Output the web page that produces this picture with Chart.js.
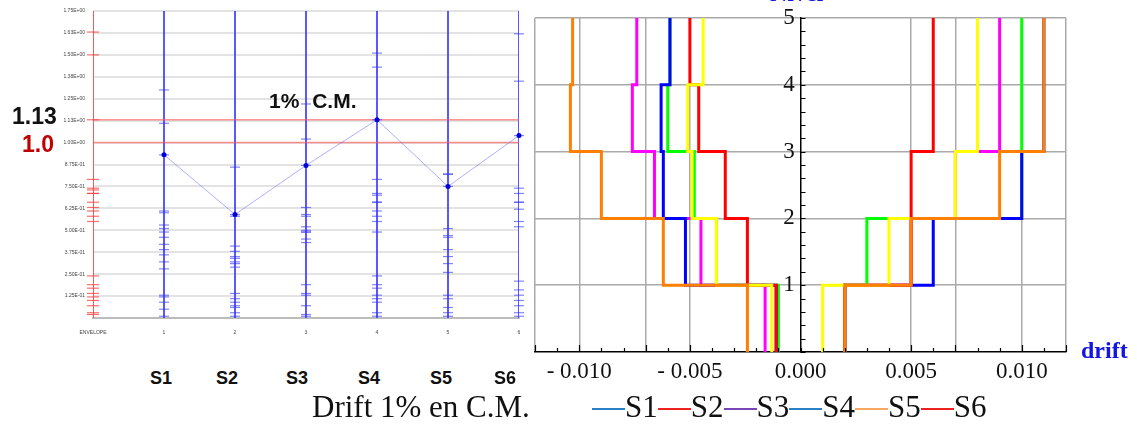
<!DOCTYPE html>
<html lang="es">
<head>
<meta charset="UTF-8">
<title>Drift 1% en C.M.</title>
<script src="https://cdn.jsdelivr.net/npm/chart.js"></script>
<style>
  body { margin: 0; width: 1137px; height: 427px; background: #fff; position: relative; overflow: hidden; }
  canvas { position: absolute; }
  .lbl { position: absolute; white-space: nowrap; }
  .legend { position: absolute; display: flex; align-items: center; white-space: nowrap; }
  .legend i { display: inline-block; width: 33px; height: 2px; margin-top: 5px; }
</style>
</head>
<body>
<canvas id="ratioChart" width="545" height="340" style="left:0;top:0"></canvas>
<canvas id="driftChart" width="617" height="400" style="left:520px;top:0"></canvas>
<script>
// ---- ratio chart (left) ----
const stationLabels = ['ENVELOPE', '1', '2', '3', '4', '5', '6'];
const stationNames = ['S1', 'S2', 'S3', 'S4', 'S5', 'S6'];
const meanRatio = [0.93, 0.59, 0.87, 1.13, 0.75, 1.04];
const limitTarget = 1.13;
const limitBase = 1.0;
const envelopeRecords = [1.63, 1.50, 1.13, 0.79, 0.74, 0.73, 0.71, 0.71, 0.66, 0.63, 0.61, 0.58, 0.55,
  0.24, 0.19, 0.17, 0.14, 0.12, 0.10, 0.07, 0.03, 0.02];
const s1Records = [1.30, 1.11, 0.93, 0.61, 0.60, 0.53, 0.51, 0.49, 0.46, 0.42, 0.39, 0.36, 0.32, 0.28, 0.13, 0.12, 0.09, 0.05, 0.01];
const s2Records = [0.86, 0.59, 0.58, 0.41, 0.38, 0.35, 0.34, 0.32, 0.31, 0.29, 0.14, 0.11, 0.09, 0.07, 0.06, 0.03, 0.01];
const s3Records = [1.22, 1.02, 0.87, 0.63, 0.59, 0.58, 0.52, 0.50, 0.49, 0.49, 0.45, 0.43, 0.19, 0.14, 0.13, 0.07, 0.02, 0.01];
const s4Records = [1.51, 1.43, 1.13, 0.79, 0.71, 0.70, 0.66, 0.66, 0.61, 0.58, 0.55, 0.49, 0.24, 0.19, 0.17, 0.13, 0.11, 0.09, 0.03, 0.01];
const s5Records = [0.82, 0.82, 0.75, 0.51, 0.47, 0.46, 0.39, 0.35, 0.31, 0.26, 0.13, 0.11, 0.06, 0.03, 0.01];
const s6Records = [1.62, 1.35, 1.04, 0.74, 0.71, 0.66, 0.66, 0.62, 0.55, 0.52, 0.21, 0.16, 0.13, 0.10, 0.07, 0.03, 0.01];
const ratioMax = 1.75;

// ---- drift profiles (right), one value per story, stories 1..5 ----
const levels = [0, 1, 2, 3, 4, 5];
const driftNeg = {
  S3: [-0.0016, -0.0045, -0.0066, -0.0076, -0.0074],
  S4: [-0.0010, -0.0038, -0.0048, -0.0060, -0.0059],
  S1: [-0.0011, -0.0052, -0.0062, -0.0063, -0.0059],
  S2: [-0.0011, -0.0024, -0.0034, -0.0046, -0.0050],
  S5: [-0.0013, -0.0038, -0.0049, -0.0051, -0.0044],
  S6: [-0.0024, -0.0062, -0.0090, -0.0104, -0.0103]
};
const driftPos = {
  S3: [0.002, 0.005, 0.007, 0.009, 0.009],
  S4: [0.002, 0.003, 0.010, 0.010, 0.010],
  S1: [0.002, 0.006, 0.010, 0.011, 0.011],
  S2: [0.002, 0.005, 0.005, 0.006, 0.006],
  S5: [0.001, 0.004, 0.007, 0.008, 0.008],
  S6: [0.002, 0.005, 0.009, 0.011, 0.011]
};
const driftColors = { S1: '#0000ff', S2: '#ff0000', S3: '#ff00ff', S4: '#00ff00', S5: '#ffff00', S6: '#ff8000' };
const driftTicks = [];
for (let i = -12; i <= 12; i++) driftTicks.push(i / 1000);
const driftGrid = [-12, -10, -7, -5, 5, 7, 10, 12];      // in thousandths
const driftLabelled = [-10, -5, 0, 5, 10];

// legend under the drift chart
const legendItems = ['S1', 'S2', 'S3', 'S4', 'S5', 'S6'];
const legendColors = ['#2a7fc9', '#ee2222', '#7b45b8', '#2a7fc9', '#f6a865', '#ee2222'];

// 1.125 -> "1.13E+00"
function sci(v) {
  const [m, e] = v.toExponential(2).split('e');
  const n = parseInt(e, 10);
  return m + 'E' + (n < 0 ? '-' : '+') + String(Math.abs(n)).padStart(2, '0');
}

// chart.js paints lower `order` on top, so later pushes get lower order
function stackUp(sets) {
  sets.forEach((ds, i) => { ds.order = sets.length - i; });
  return sets;
}

const ratioSets = [];
ratioSets.push({ data: [{ x: 0, y: 0 }, { x: 0, y: ratioMax }], showLine: true, borderColor: 'rgba(255,70,70,0.9)', borderWidth: 2, pointRadius: 0 });
stationNames.forEach((_, i) => {
  ratioSets.push({ data: [{ x: i + 1, y: 0 }, { x: i + 1, y: ratioMax }], showLine: true, borderColor: 'rgba(60,60,255,0.85)', borderWidth: 2, pointRadius: 0 });
});
[limitTarget, limitBase].forEach(v => {
  ratioSets.push({ data: [{ x: 0, y: v }, { x: 6, y: v }], showLine: true, borderColor: 'rgba(255,90,90,0.65)', borderWidth: 1.5, pointRadius: 0 });
});
ratioSets.push({
  data: envelopeRecords.map(v => ({ x: 0, y: v })), pointStyle: 'line', pointRadius: 6,
  pointBorderColor: 'rgba(255,60,60,0.75)', pointBorderWidth: 1.2, clip: false
});
[s1Records, s2Records, s3Records, s4Records, s5Records, s6Records].forEach((rec, i) => {
  ratioSets.push({
    data: rec.map(v => ({ x: i + 1, y: v })), pointStyle: 'line', pointRadius: 5,
    pointBorderColor: 'rgba(50,50,255,0.6)', pointBorderWidth: 1.2, clip: false
  });
});
ratioSets.push({
  data: meanRatio.map((v, i) => ({ x: i + 1, y: v })), showLine: true,
  borderColor: 'rgba(110,110,255,0.55)', borderWidth: 1,
  pointRadius: 2.5, pointBackgroundColor: '#0000dd', pointBorderWidth: 0, clip: false
});

new Chart(document.getElementById('ratioChart'), {
  type: 'scatter',
  data: { datasets: stackUp(ratioSets) },
  options: {
    responsive: false, animation: false, devicePixelRatio: 1,
    layout: { padding: { top: 11, right: 26, left: 0, bottom: 0 } },
    plugins: { legend: { display: false }, tooltip: { enabled: false } },
    scales: {
      x: {
        type: 'linear', min: 0, max: 6,
        afterBuildTicks: s => { s.ticks = stationLabels.map((_, i) => ({ value: i })); },
        afterFit: s => { s.height = 22; },
        grid: { display: false },
        border: { color: '#bcbcbc', width: 2 },
        ticks: { callback: v => stationLabels[v], autoSkip: false, maxRotation: 0, padding: 4,
                 color: '#444', font: { size: 5, family: 'Liberation Sans' } }
      },
      y: {
        min: 0, max: ratioMax,
        afterFit: s => { s.width = 93; },
        grid: { color: '#e3e3e3', lineWidth: 2, drawTicks: false },
        border: { display: false },
        ticks: { stepSize: 0.125, callback: v => (v === 0 ? '' : sci(v)), padding: 8,
                 color: '#444', font: { size: 5, family: 'Liberation Sans' } }
      }
    }
  }
});

// ---- drift chart ----
function profile(values) {
  const pts = [];
  values.forEach((d, i) => { pts.push({ x: d, y: levels[i] }); pts.push({ x: d, y: levels[i + 1] }); });
  return pts;
}
const driftSets = [];
Object.keys(driftNeg).forEach(k => {
  [driftNeg[k], driftPos[k]].forEach(vals => {
    driftSets.push({ label: k, data: profile(vals), showLine: true, borderColor: driftColors[k],
                     borderWidth: 3, pointRadius: 0, borderJoinStyle: 'miter' });
  });
});

const inwardTicks = {
  id: 'inwardTicks',
  afterDraw(chart) {
    const { ctx, scales: { x, y } } = chart;
    ctx.save();
    ctx.strokeStyle = '#000';
    ctx.lineWidth = 1.2;
    ctx.beginPath();
    driftTicks.forEach(v => {
      const px = Math.round(x.getPixelForValue(v)) + 0.5;
      const len = driftGrid.includes(Math.round(v * 1000)) ? 7 : 4;
      ctx.moveTo(px, y.bottom);
      ctx.lineTo(px, y.bottom - len);
    });
    const x0 = x.getPixelForValue(0);
    for (let k = 0; k <= 25; k++) {
      const py = Math.round(y.getPixelForValue(k / 5)) + 0.5;
      ctx.moveTo(x0, py);
      ctx.lineTo(x0 + 5, py);
    }
    ctx.stroke();
    ctx.restore();
  }
};

new Chart(document.getElementById('driftChart'), {
  type: 'scatter',
  data: { datasets: stackUp(driftSets) },
  plugins: [inwardTicks],
  options: {
    responsive: false, animation: false, devicePixelRatio: 1,
    layout: { padding: { top: 18, right: 71, left: 15, bottom: 0 } },
    plugins: { legend: { display: false }, tooltip: { enabled: false } },
    scales: {
      x: {
        type: 'linear', min: -0.012, max: 0.012,
        afterBuildTicks: s => { s.ticks = driftTicks.map(v => ({ value: v })); },
        afterFit: s => { s.height = 48; },
        grid: {
          color: c => (driftGrid.includes(Math.round(c.tick.value * 1000)) ? '#aaaaaa' : 'rgba(0,0,0,0)'),
          lineWidth: 1.5, drawTicks: false
        },
        border: { color: '#000', width: 1.5 },
        ticks: {
          autoSkip: false, maxRotation: 0, padding: 6, color: '#111',
          font: { size: 23, family: 'Liberation Serif' },
          callback: v => {
            const k = Math.round(v * 1000);
            if (!driftLabelled.includes(k)) return '';
            return (k < 0 ? '- ' : '') + Math.abs(v).toFixed(3);
          }
        }
      },
      y: {
        min: 0, max: 5, position: { x: 0 },
        grid: { color: c => (c.tick.value === 0 ? 'rgba(0,0,0,0)' : '#aaaaaa'), lineWidth: 1.5, drawTicks: false },
        border: { color: '#000', width: 1.5 },
        ticks: { stepSize: 1, color: '#111', font: { size: 23, family: 'Liberation Serif' },
                 callback: v => (v === 0 ? '' : v + ' ') }
      }
    }
  }
});

// ---- free text around the charts ----
function addLabel(text, x, baseline, size, font, color, opts = {}) {
  const el = document.createElement('div');
  el.className = 'lbl';
  el.textContent = text;
  el.style.font = font;
  el.style.lineHeight = '1';
  el.style.color = color;
  el.style.top = (baseline - 0.845 * size) + 'px';
  el.style.left = x + 'px';
  if (opts.center) el.style.transform = 'translateX(-50%)';
  if (opts.wordSpacing) el.style.wordSpacing = opts.wordSpacing;
  document.body.appendChild(el);
  return el;
}

addLabel(String(limitTarget), 12, 124, 23, 'bold 23px "Liberation Sans", Arial, sans-serif', '#111');
addLabel(limitBase.toFixed(1), 22, 152, 23, 'bold 23px "Liberation Sans", Arial, sans-serif', '#c00000');
addLabel('1% C.M.', 269, 108, 21, 'bold 21px "Liberation Sans", Arial, sans-serif', '#111', { wordSpacing: '7px' });

const stationTextX = [161, 227, 297, 369, 441, 505];
stationNames.forEach((s, i) => {
  addLabel(s, stationTextX[i], 384, 18, 'bold 18px "Liberation Sans", Arial, sans-serif', '#111', { center: true });
});

addLabel('drift', 1081, 358, 24, 'bold 24px "Liberation Serif", serif', '#1414e6');
addLabel('Nivel', 770, 1, 24, 'bold 24px "Liberation Serif", serif', '#1414e6');
addLabel('Drift 1% en C.M.', 312, 417, 31, '31px "Liberation Serif", serif', '#111');

const legend = document.createElement('div');
legend.className = 'legend';
legend.style.left = '592px';
legend.style.top = (417 - 0.845 * 31) + 'px';
legend.style.font = '31px "Liberation Serif", serif';
legend.style.lineHeight = '1';
legend.style.color = '#111';
legendItems.forEach((name, i) => {
  const line = document.createElement('i');
  line.style.background = legendColors[i];
  legend.appendChild(line);
  const t = document.createElement('span');
  t.textContent = name;
  legend.appendChild(t);
});
document.body.appendChild(legend);
</script>
</body>
</html>
